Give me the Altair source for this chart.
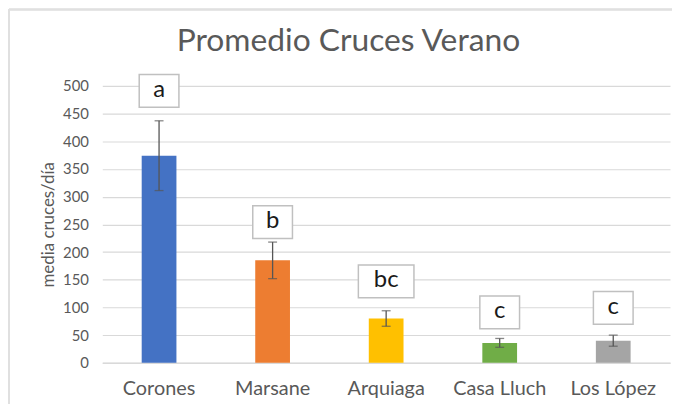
import altair as alt
import pandas as pd

sites = ["Corones", "Marsane", "Arquiaga", "Casa Lluch", "Los López"]
means = [374, 185, 80, 36, 40]
errs = [63, 33, 14, 8, 10]
letters = ["a", "b", "bc", "c", "c"]
letter_y = [491, 254, 147, 91, 99]
colors = ["#4472C4", "#ED7D31", "#FFC000", "#70AD47", "#A5A5A5"]
title_text = "Promedio Cruces Verano"

def box_path(text):
    w = 20 if len(text) == 1 else 28
    h = 16.5
    return f"M{-w},{-h}L{w},{-h}L{w},{h}L{-w},{h}Z"

df = pd.DataFrame({
    "site": sites,
    "mean": means,
    "lo": [m - e for m, e in zip(means, errs)],
    "hi": [m + e for m, e in zip(means, errs)],
    "letter": letters,
    "ly": letter_y,
    "shape": [box_path(t) for t in letters],
})

FONT = "Lato"
GRAY = "#595959"

x = alt.X("site:N", sort=sites, title=None,
          axis=alt.Axis(labelAngle=0, labelFontSize=20, labelColor=GRAY, labelFont=FONT,
                        ticks=False, domainColor="#d9d9d9", domainWidth=1.5, labelPadding=16,
                        grid=False))
yscale = alt.Scale(domain=[0, 500])
yaxis = alt.Axis(values=list(range(0, 501, 50)), ticks=False, domain=False,
                 gridColor="#d9d9d9", gridWidth=1.2, labelFontSize=15,
                 labelColor=GRAY, labelFont=FONT, labelPadding=14,
                 labelOverlap=False,
                 titleFontSize=17, titleColor=GRAY, titleFont=FONT,
                 titleFontWeight="normal", titlePadding=5)

def yq(field):
    return alt.Y(field, scale=yscale, axis=yaxis, title="media cruces/día")

bars = alt.Chart(df).mark_bar(width=35).encode(
    x=x, y=yq("mean:Q"),
    color=alt.Color("site:N", sort=sites, scale=alt.Scale(domain=sites, range=colors), legend=None),
)

stems = alt.Chart(df).mark_rule(color="#555555", strokeWidth=1.3).encode(
    x=x, y=yq("lo:Q"), y2="hi:Q")
cap_lo = alt.Chart(df).mark_tick(color="#555555", thickness=1.3, size=9).encode(
    x=x, y=yq("lo:Q"))
cap_hi = alt.Chart(df).mark_tick(color="#555555", thickness=1.3, size=9).encode(
    x=x, y=yq("hi:Q"))

boxes = alt.Chart(df).mark_point(size=4, filled=True, fill="white", stroke="#c0c0c0",
                                 strokeWidth=1.5, opacity=1).encode(
    x=x, y=yq("ly:Q"),
    shape=alt.Shape("shape:N", scale=None))
texts = alt.Chart(df).mark_text(fontSize=24, font=FONT, color="#1a1a1a", baseline="middle",
                                dy=-1).encode(
    x=x, y=yq("ly:Q"), text="letter:N")

title = alt.Chart(pd.DataFrame({"t": [title_text]})).mark_text(
    fontSize=32, font=FONT, color=GRAY, baseline="alphabetic", align="center").encode(
    x=alt.value(248), y=alt.value(-35), text="t:N")

frame_left = alt.Chart(df).mark_rule(color="#e0e0e0", strokeWidth=1.5).encode(
    x=alt.value(-94), y=alt.value(-77), y2=alt.value(330))
frame_top = alt.Chart(df).mark_rule(color="#e0e0e0", strokeWidth=1.5).encode(
    x=alt.value(-94), x2=alt.value(580), y=alt.value(-77))

chart = alt.layer(bars, stems, cap_lo, cap_hi, boxes, texts, title, frame_left, frame_top).properties(
    width=572, height=279,
    autosize=alt.AutoSizeParams(type="none"),
    padding={"left": 95, "top": 77, "right": 2, "bottom": 40},
).configure(background="white").configure_view(stroke=None)

chart.save("out.html", embed_options={"renderer": "svg", "actions": False})
